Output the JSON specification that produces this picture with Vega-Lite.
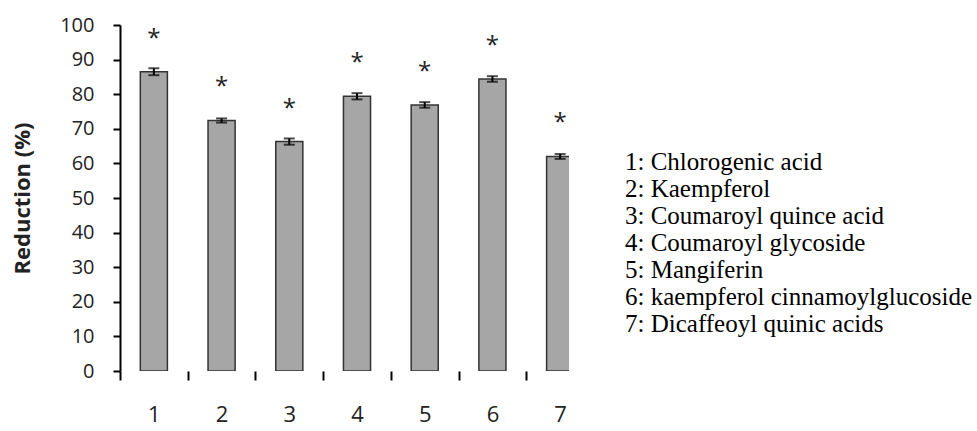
{
  "$schema": "https://vega.github.io/schema/vega-lite/v6.json",
  "autosize": {"type": "none"},
  "width": 449,
  "height": 346,
  "padding": {"left": 120, "top": 25, "right": 408, "bottom": 60},
  "background": "white",
  "config": {"view": {"stroke": null}},
  "data": {
    "values": [
      {"cat": "1", "name": "1: Chlorogenic acid", "mean": 86.5, "err": 1.0},
      {"cat": "2", "name": "2: Kaempferol", "mean": 72.4, "err": 0.6},
      {"cat": "3", "name": "3: Coumaroyl quince acid", "mean": 66.3, "err": 0.9},
      {"cat": "4", "name": "4: Coumaroyl glycoside", "mean": 79.4, "err": 0.9},
      {"cat": "5", "name": "5: Mangiferin", "mean": 76.9, "err": 0.8},
      {"cat": "6", "name": "6: kaempferol cinnamoylglucoside", "mean": 84.4, "err": 0.8},
      {"cat": "7", "name": "7: Dicaffeoyl quinic acids", "mean": 62.0, "err": 0.7}
    ]
  },
  "encoding": {
    "x": {
      "field": "cat",
      "type": "ordinal",
      "scale": {"range": [0, 474], "paddingInner": 0.6, "paddingOuter": 0.3},
      "axis": {
        "title": null,
        "labelAngle": 0,
        "labelFont": "Open Sans",
        "labelFontSize": 22,
        "labelColor": "#222",
        "labelPadding": 24,
        "labelOffset": 33.86,
        "domain": false,
        "ticks": true,
        "tickOffset": -33.86,
        "tickSize": 9,
        "tickWidth": 2,
        "tickColor": "black"
      }
    },
    "y": {
      "field": "mean",
      "type": "quantitative",
      "scale": {"domain": [0, 100], "nice": false},
      "axis": {
        "title": "Reduction (%)",
        "titleFont": "Open Sans",
        "titleFontSize": 22,
        "titleFontWeight": "bold",
        "titleColor": "#222",
        "titlePadding": 25,
        "values": [0, 10, 20, 30, 40, 50, 60, 70, 80, 90, 100],
        "labelOverlap": false,
        "labelFont": "Open Sans",
        "labelFontSize": 20,
        "labelColor": "#222",
        "labelPadding": 19,
        "grid": false,
        "domainColor": "black",
        "domainWidth": 2,
        "tickColor": "black",
        "tickWidth": 2,
        "tickSize": 7
      }
    }
  },
  "layer": [
    {
      "mark": {"type": "bar", "clip": true, "stroke": "#333", "strokeWidth": 1.5},
      "encoding": {
        "fill": {
          "field": "name",
          "type": "nominal",
          "scale": {"range": ["#a6a6a6"]},
          "legend": {
            "title": null,
            "orient": "none",
            "legendX": 480,
            "legendY": 124,
            "padding": 0,
            "symbolSize": 0,
            "symbolStrokeWidth": 0,
            "symbolOpacity": 0,
            "labelOffset": 0,
            "labelFont": "Liberation Serif",
            "labelFontSize": 25,
            "labelColor": "black",
            "labelLimit": 0,
            "rowPadding": 1
          }
        }
      }
    },
    {
      "mark": {"type": "errorbar", "color": "black", "thickness": 2, "ticks": {"size": 11, "thickness": 2, "color": "black"}, "rule": {"strokeWidth": 2}},
      "encoding": {
        "yError": {"field": "err"}
      }
    },
    {
      "mark": {"type": "text", "text": "*", "font": "Open Sans", "fontSize": 24, "color": "#222", "baseline": "alphabetic", "dy": -26, "clip": true}
    },
    {
      "mark": {"type": "rule", "color": "black", "strokeWidth": 2},
      "encoding": {"y": {"datum": 0}}
    }
  ]
}
